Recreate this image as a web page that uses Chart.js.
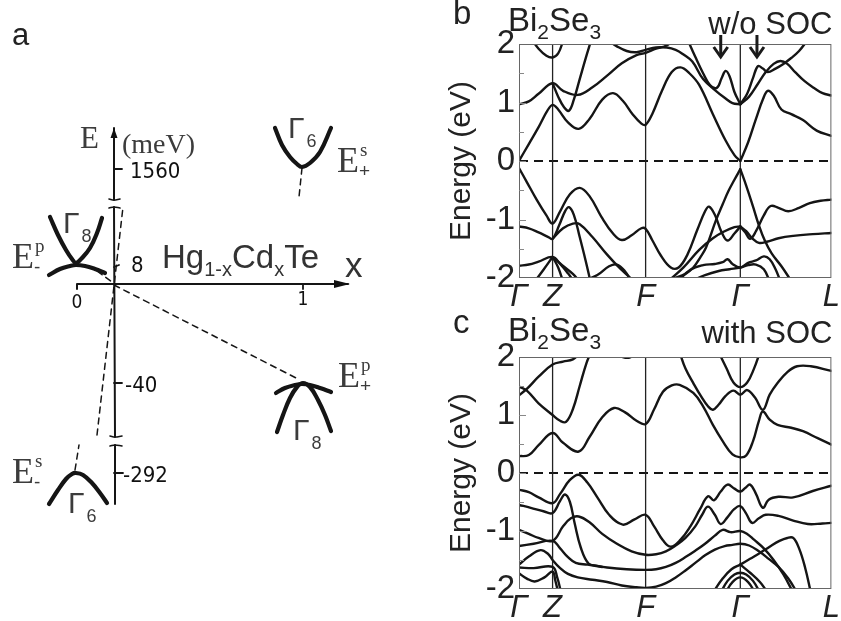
<!DOCTYPE html>
<html>
<head>
<meta charset="utf-8">
<script src="https://cdn.jsdelivr.net/npm/chart.js@4.4.1/dist/chart.umd.min.js"></script>
<style>
  html, body { margin: 0; padding: 0; background: #fff; }
  #fig { position: relative; width: 841px; height: 621px; overflow: hidden; background: #fff; }
  #fig canvas { position: absolute; }
</style>
</head>
<body>
<div id="fig">
  <canvas id="panelA" width="430" height="621" style="left:0;top:0"></canvas>
  <canvas id="panelB" width="401" height="310" style="left:440px;top:0"></canvas>
  <canvas id="panelC" width="401" height="311" style="left:440px;top:310px"></canvas>
</div>
<script>
const SANS = '"Liberation Sans", Arial, Helvetica, sans-serif';
const SERIF = '"Liberation Serif", "Times New Roman", serif';
const HAND = '"Liberation Sans Narrow", "DejaVu Sans Condensed", sans-serif';

/* ---------- panel a: Hg1-xCdxTe level scheme (u: right of E axis, v: above x axis) ---------- */
const eAxisSegments = [[[0,156],[0,84]], [[0,77],[1,-153]], [[1,-161],[1,-220]]];
const eAxisBreaks = [[[-5,85],[0,84],[6,85]], [[-5,76],[0,77],[6,76]],
                     [[-4,-152],[1,-153],[8,-152]], [[-4,-162],[1,-161],[8,-162]]];
const eAxisTicks = [[[0,115],[8,115]], [[0,17],[5,19]], [[0,-99],[8,-99]], [[0,-189],[9,-189]]];
const xAxisLine = [[-37,-5],[-37,0],[234,0]];
const xAxisTicks = [[[189,0],[189,-5]]];
const gamma6Upper = [[161,156],[168,139],[176,127],[183,120],[188,117],[196,121],[206,132],[217,156]];
const gamma8LeftUp = [[-64,67],[-56,49],[-48,34],[-42,25],[-38,21],[-32,26],[-24,36],[-17,51],[-12,66]];
const gamma8LeftArch = [[-65,9],[-54,15],[-44,18],[-38,19],[-29,18],[-19,15],[-9,11]];
const gamma6Lower = [[-65,-220],[-56,-206],[-48,-195],[-42,-190],[-38,-189],[-31,-191],[-22,-199],[-14,-209],[-7,-219]];
const gamma8RightSteep = [[163,-148],[169,-131],[176,-114],[183,-103],[189,-99],[196,-103],[204,-116],[211,-131],[217,-147]];
const gamma8RightFlat = [[162,-109],[171,-104],[181,-101],[188,-100],[196,-101],[206,-104],[217,-108]];
const levelTrends = [[[188,116],[185,87]], [[-39,-186],[-35,-161]], [[-17,-151],[9,77]],
                     [[0,-1],[186,-96]], [[-17,13],[-2,2]]];
const energyMarks = [['1560',16,106], ['8',17,12], ['-40',11,-108], ['-292',9,-198]];
const compositionMarks = [['0',-37,-24], ['1',189,-21]];

/* ---------- panels b, c: Bi2Se3 bands along Γ–Z–F–Γ–L ---------- */
const kPoints = [0, 0.343, 1.293, 2.26, 3.19];
const kLabels = ['Γ', 'Z', 'F', 'Γ', 'L'];
const energyTicks = [-2, -1, 0, 1, 2];
const arrowK = [2.06, 2.43];

// without spin-orbit coupling
const woC1 = [[0,0],[0.1,0.29],[0.2,0.58],[0.29,0.86],[0.343,0.96],[0.4,0.88],[0.5,0.66],[0.61,0.55],[0.72,0.72],[0.85,1.05],[0.96,1.16],[1.06,1.03],[1.16,0.8],[1.25,0.64],[1.293,0.62],[1.36,0.8],[1.46,1.2],[1.56,1.52],[1.65,1.6],[1.74,1.5],[1.84,1.3],[1.98,0.8],[2.11,0.35],[2.2,0.1],[2.26,0]];
const woC1R = [[2.26,0],[2.34,0.32],[2.42,0.72],[2.49,1.05],[2.54,1.2],[2.6,1.12],[2.68,0.88],[2.78,0.8],[2.9,0.7],[3.04,0.52],[3.19,0.43]];
const woC2 = [[0,0.97],[0.1,1.02],[0.2,1.15],[0.343,1.33],[0.45,1.2],[0.6,1.13],[0.75,1.26],[0.9,1.46],[1.05,1.67],[1.2,1.81],[1.293,1.85],[1.4,1.92],[1.5,1.97],[1.58,2.06]];
const woC3 = [[0.343,1.33],[0.4,1.1],[0.46,0.92],[0.51,0.86],[0.56,1.05],[0.62,1.4],[0.68,1.75],[0.74,2.08]];
const woC4 = [[0.12,2.1],[0.2,1.92],[0.28,1.8],[0.343,1.77],[0.4,1.84],[0.45,2.05]];
const woC5 = [[0.92,2.05],[1.0,1.96],[1.1,1.88],[1.2,1.86],[1.293,1.9],[1.4,1.94],[1.51,1.94],[1.6,1.9],[1.68,1.82],[1.77,1.7],[1.88,1.4],[2.01,1.2],[2.1,1.08],[2.18,0.99],[2.26,0.97]];
const woC6 = [[1.72,2.08],[1.8,1.78],[1.88,1.5],[1.95,1.3],[2.02,1.25],[2.07,1.42],[2.11,1.54],[2.15,1.45],[2.2,1.18],[2.26,0.97]];
const woC7 = [[2.26,0.97],[2.33,1.15],[2.39,1.42],[2.44,1.62],[2.49,1.58],[2.54,1.52],[2.62,1.58],[2.7,1.66],[2.78,1.76],[2.86,1.88],[2.94,2.05]];
const woC8 = [[2.26,0.97],[2.35,1.1],[2.44,1.32],[2.52,1.52],[2.6,1.66],[2.67,1.71],[2.74,1.66],[2.82,1.52],[2.92,1.36],[3.02,1.24],[3.1,1.16],[3.19,1.12]];
const woV1 = [[0,-0.12],[0.08,-0.36],[0.18,-0.66],[0.28,-0.93],[0.343,-1.07],[0.42,-0.86],[0.52,-0.57],[0.62,-0.46],[0.72,-0.6],[0.84,-0.95],[0.96,-1.24],[1.05,-1.35],[1.15,-1.27],[1.25,-1.15],[1.293,-1.16],[1.36,-1.35],[1.45,-1.62],[1.55,-1.82],[1.63,-1.82],[1.72,-1.6],[1.82,-1.18],[1.9,-0.86],[1.94,-0.78],[2.0,-0.92],[2.07,-1.22],[2.13,-1.36],[2.2,-1.24],[2.26,-1.12]];
const woV2 = [[1.45,-2.06],[1.61,-1.99],[1.7,-1.93],[1.78,-1.82],[1.85,-1.65],[1.91,-1.48],[2.01,-1.02],[2.08,-0.74],[2.14,-0.51],[2.2,-0.32],[2.26,-0.14]];
const woV2R = [[2.26,-0.14],[2.32,-0.42],[2.39,-0.78],[2.45,-1.1],[2.51,-1.36],[2.58,-1.58],[2.68,-1.8],[2.78,-2.05]];
const woV3 = [[2.26,-1.12],[2.31,-1.22],[2.36,-1.33],[2.42,-1.2],[2.5,-0.93],[2.57,-0.77],[2.65,-0.8],[2.75,-0.86],[2.86,-0.8],[2.97,-0.72],[3.08,-0.68],[3.19,-0.66]];
const woV4 = [[2.26,-1.12],[2.32,-1.2],[2.38,-1.32],[2.45,-1.4],[2.53,-1.38],[2.65,-1.32],[2.8,-1.28],[3.0,-1.25],[3.19,-1.23]];
const woV5 = [[1.52,-2.06],[1.68,-1.82],[1.84,-1.52],[1.98,-1.32],[2.1,-1.2],[2.2,-1.13],[2.26,-1.12]];
const woV6 = [[1.62,-2.06],[1.75,-1.86],[1.88,-1.78],[2.0,-1.76],[2.08,-1.73],[2.13,-1.68],[2.18,-1.76],[2.26,-1.82],[2.34,-1.74],[2.42,-1.7],[2.5,-1.63],[2.56,-1.68],[2.62,-1.85],[2.67,-2.06]];
const woV7 = [[1.75,-2.06],[1.9,-1.95],[2.04,-1.88],[2.15,-1.85],[2.26,-1.82],[2.34,-1.78],[2.42,-1.77],[2.5,-1.85],[2.56,-2.06]];
const woV8 = [[0,-1.12],[0.1,-1.15],[0.2,-1.22],[0.3,-1.3],[0.343,-1.33],[0.41,-1.1],[0.47,-0.86],[0.51,-0.79],[0.56,-0.92],[0.62,-1.3],[0.68,-1.7],[0.73,-2.06]];
const woV9 = [[0.343,-1.33],[0.45,-1.15],[0.55,-1.07],[0.62,-1.08],[0.75,-1.3],[0.9,-1.6],[1.04,-1.85],[1.18,-2.06]];
const woV10 = [[0,-1.79],[0.1,-1.77],[0.2,-1.72],[0.343,-1.64],[0.42,-1.76],[0.5,-1.92],[0.56,-2.06]];
const woV11 = [[0.343,-1.64],[0.4,-1.82],[0.45,-2.06]];
const woV12 = [[0.16,-2.06],[0.25,-1.86],[0.343,-1.64]];
const woV13 = [[0.343,-1.64],[0.44,-1.78],[0.55,-1.93],[0.62,-2.06]];
const woV14 = [[0.7,-2.02],[0.8,-1.95],[0.92,-1.8],[1.0,-1.77],[1.08,-1.88],[1.15,-2.06]];
const bandsWithoutSOC = [woC1, woC1R, woC2, woC3, woC4, woC5, woC6, woC7, woC8,
  woV1, woV2, woV2R, woV3, woV4, woV5, woV6, woV7, woV8, woV9, woV10, woV11, woV12, woV13, woV14];

// with spin-orbit coupling
const wC1 = [[0,0.29],[0.1,0.31],[0.2,0.48],[0.343,0.69],[0.45,0.52],[0.61,0.37],[0.72,0.62],[0.85,0.96],[0.97,1.12],[1.08,1.05],[1.2,0.9],[1.293,0.845],[1.38,1.1],[1.47,1.4],[1.56,1.51],[1.64,1.52],[1.78,1.38],[1.88,1.15],[1.98,0.83],[2.08,0.55],[2.18,0.32],[2.26,0.27],[2.32,0.3],[2.39,0.55],[2.45,0.9],[2.49,1.06],[2.56,0.92],[2.64,0.83],[2.78,0.78],[2.9,0.72],[3.05,0.6],[3.19,0.49]];
const wC2 = [[0,1.49],[0.08,1.42],[0.2,1.2],[0.343,1.0],[0.42,0.9],[0.48,0.88],[0.55,1.1],[0.62,1.5],[0.69,1.9],[0.74,2.1]];
const wC3 = [[0,1.34],[0.08,1.45],[0.2,1.66],[0.343,1.87],[0.45,1.92],[0.55,1.96],[0.62,2.06]];
const wC4 = [[1.0,2.06],[1.06,2.0],[1.13,1.99],[1.19,2.06]];
const wC5 = [[1.64,2.08],[1.7,1.8],[1.78,1.55],[1.86,1.32],[1.93,1.15],[1.98,1.09],[2.04,1.18],[2.11,1.33],[2.19,1.42],[2.26,1.35],[2.33,1.43],[2.41,1.3],[2.49,1.09],[2.56,1.35],[2.64,1.55],[2.74,1.74],[2.84,1.84],[2.98,1.84],[3.19,1.76]];
const wC6 = [[2.04,2.08],[2.12,1.8],[2.19,1.56],[2.26,1.48],[2.33,1.56],[2.4,1.8],[2.46,2.08]];
const wV1 = [[0,-0.29],[0.1,-0.33],[0.2,-0.42],[0.343,-0.52],[0.42,-0.36],[0.52,-0.12],[0.61,-0.03],[0.7,-0.17],[0.8,-0.42],[0.92,-0.72],[1.06,-0.89],[1.18,-0.8],[1.293,-0.72],[1.38,-0.92],[1.47,-1.16],[1.55,-1.27],[1.65,-1.15],[1.75,-0.92],[1.85,-0.62],[1.93,-0.4],[1.99,-0.47],[2.06,-0.32],[2.13,-0.2],[2.2,-0.27],[2.26,-0.32],[2.31,-0.26],[2.36,-0.2],[2.42,-0.36],[2.49,-0.6],[2.55,-0.46],[2.65,-0.41],[2.8,-0.42],[3.0,-0.31],[3.19,-0.22]];
const wV2 = [[0,-0.55],[0.12,-0.6],[0.25,-0.66],[0.343,-0.69],[0.42,-0.48],[0.47,-0.37],[0.52,-0.5],[0.57,-0.88],[0.63,-1.28],[0.71,-1.56],[0.8,-1.6],[0.9,-1.63],[1.1,-1.66],[1.293,-1.67],[1.4,-1.66],[1.5,-1.62],[1.6,-1.55],[1.7,-1.45],[1.8,-1.34],[1.9,-1.22],[2.0,-1.08],[2.08,-0.98],[2.16,-1.02],[2.26,-1.0],[2.33,-1.05],[2.4,-1.15],[2.5,-1.3],[2.6,-1.5],[2.7,-1.75],[2.8,-2.06]];
const wV3 = [[0,-0.98],[0.1,-1.05],[0.2,-1.12],[0.343,-1.17],[0.45,-0.92],[0.53,-0.78],[0.61,-0.75],[0.72,-0.85],[0.85,-1.05],[1.0,-1.22],[1.15,-1.35],[1.293,-1.41],[1.4,-1.4],[1.5,-1.35],[1.6,-1.25],[1.7,-1.12],[1.8,-0.92],[1.87,-0.72],[1.93,-0.58],[2.0,-0.72],[2.06,-0.88],[2.13,-0.76],[2.2,-0.62],[2.26,-0.57],[2.32,-0.7],[2.38,-0.86],[2.45,-0.78],[2.52,-0.72],[2.65,-0.74],[2.8,-0.82],[2.95,-0.88],[3.1,-0.87],[3.19,-0.86]];
const wV4 = [[0,-1.26],[0.15,-1.22],[0.343,-1.17],[0.42,-1.3],[0.5,-1.45],[0.58,-1.55],[0.7,-1.58],[0.85,-1.62]];
const wV5 = [[0,-1.58],[0.1,-1.44],[0.22,-1.33],[0.3,-1.4],[0.343,-1.5],[0.42,-1.64],[0.5,-1.74],[0.6,-1.8],[0.75,-1.84],[0.9,-1.88],[1.05,-1.94],[1.2,-1.97],[1.293,-1.98],[1.4,-1.96],[1.5,-1.9],[1.6,-1.8],[1.7,-1.68],[1.8,-1.55],[1.9,-1.42],[2.0,-1.32],[2.1,-1.26],[2.18,-1.24],[2.26,-1.22],[2.35,-1.25],[2.45,-1.35],[2.55,-1.48],[2.65,-1.62],[2.75,-1.82],[2.84,-2.06]];
const wV6 = [[0,-1.63],[0.15,-1.64],[0.343,-1.62],[0.39,-1.8],[0.43,-2.06]];
const wV7 = [[0,-1.73],[0.08,-1.82],[0.16,-1.87],[0.26,-1.8],[0.343,-1.7],[0.37,-1.85],[0.4,-2.06]];
const wV8 = [[2.26,-1.58],[2.36,-1.48],[2.46,-1.38],[2.56,-1.27],[2.66,-1.17],[2.74,-1.12],[2.8,-1.12],[2.86,-1.3],[2.92,-1.62],[2.98,-2.06]];
const wV9 = [[2.06,-2.06],[2.13,-1.86],[2.2,-1.75],[2.26,-1.72],[2.32,-1.75],[2.39,-1.86],[2.46,-2.06]];
const wV10 = [[2.11,-2.06],[2.18,-1.88],[2.26,-1.8],[2.34,-1.88],[2.41,-2.06]];
const wV11 = [[1.98,-2.06],[2.08,-1.82],[2.17,-1.66],[2.26,-1.58]];
const wV12 = [[2.26,-1.58],[2.36,-1.72],[2.46,-1.88],[2.54,-2.06]];
const bandsWithSOC = [wC1, wC2, wC3, wC4, wC5, wC6,
  wV1, wV2, wV3, wV4, wV5, wV6, wV7, wV8, wV9, wV10, wV11, wV12];

/* ---------- helpers ---------- */
const pts = arr => arr.map(p => ({ x: p[0], y: p[1] }));

function lineSet(arr, width, dash) {
  return { data: pts(arr), showLine: true, borderColor: '#151515', borderWidth: width,
           borderDash: dash || [], pointRadius: 0, tension: 0.4, fill: false,
           borderCapStyle: 'round', borderJoinStyle: 'round' };
}

// text runs drawn left to right: [text, size, dy, family]
function drawRuns(ctx, x, y, runs) {
  let cx = x;
  runs.forEach(([t, size, dy, fam]) => {
    ctx.font = size + 'px ' + (fam || SANS);
    ctx.fillText(t, cx, y + dy);
    cx += ctx.measureText(t).width;
  });
}

// serif E with stacked superscript and subscript
function drawLevel(ctx, x, y, sup, sub) {
  ctx.fillStyle = '#3c3c3c';
  ctx.font = '36px ' + SERIF;
  ctx.fillText('E', x, y);
  const w = ctx.measureText('E').width;
  ctx.font = '19px ' + SERIF;
  ctx.fillText(sup, x + w + 1, y - 16);
  ctx.font = '19px ' + SANS;
  ctx.fillText(sub, x + w, y + 5);
}

function drawGamma(ctx, x, y, sub) {
  ctx.fillStyle = '#3c3c3c';
  ctx.font = '30px ' + SANS;
  ctx.fillText('Γ', x, y);
  const w = ctx.measureText('Γ').width;
  ctx.font = '18px ' + SANS;
  ctx.fillText(sub, x + w + 2, y + 9);
}

/* ---------- panel a ---------- */
const diagramDecor = {
  id: 'diagramDecor',
  afterDatasetsDraw(chart) {
    const ctx = chart.ctx;
    const X = u => chart.scales.x.getPixelForValue(u);
    const Y = v => chart.scales.y.getPixelForValue(v);
    ctx.save();
    ctx.fillStyle = '#111';
    // arrow heads of both axes
    ctx.beginPath();
    ctx.moveTo(X(0), Y(156)); ctx.lineTo(X(-3.5), Y(146)); ctx.lineTo(X(3.5), Y(146)); ctx.closePath(); ctx.fill();
    ctx.beginPath();
    ctx.moveTo(X(236), Y(0)); ctx.lineTo(X(220), Y(4)); ctx.lineTo(X(220), Y(-4)); ctx.closePath(); ctx.fill();
    ctx.textBaseline = 'alphabetic';
    // energy marks on the broken E axis
    ctx.textAlign = 'left';
    energyMarks.forEach(([t, u, v]) => { ctx.font = '22px ' + HAND; ctx.fillText(t, X(u), Y(v)); });
    ctx.textAlign = 'center';
    compositionMarks.forEach(([t, u, v]) => { ctx.font = '19px ' + HAND; ctx.fillText(t, X(u), Y(v)); });
    ctx.textAlign = 'left';
    // axis captions
    ctx.fillStyle = '#3c3c3c';
    ctx.font = '31px ' + SERIF; ctx.fillText('E', X(-34), Y(136));
    ctx.font = '28px ' + SERIF; ctx.fillText('(meV)', X(8), Y(131));
    ctx.fillStyle = '#333';
    drawRuns(ctx, X(48), Y(16), [['Hg',33,0],['1-x',20,8],['Cd',33,0],['x',20,8],['Te',33,0]]);
    ctx.font = '35px ' + SANS; ctx.fillText('x', X(231), Y(7));
    // band-edge labels
    drawGamma(ctx, X(174), Y(146), '6');
    drawLevel(ctx, X(223), Y(112), 's', '+');
    drawGamma(ctx, X(-51), Y(51), '8');
    drawLevel(ctx, X(-102), Y(16), 'p', '-');
    drawGamma(ctx, X(-46), Y(-229), '6');
    drawLevel(ctx, X(-102), Y(-199), 's', '-');
    drawGamma(ctx, X(179), Y(-156), '8');
    drawLevel(ctx, X(224), Y(-103), 'p', '+');
    // panel letter
    ctx.fillStyle = '#222';
    ctx.font = '31px ' + SANS; ctx.fillText('a', X(-102), Y(239));
    ctx.restore();
  }
};

const diagramSets = [];
eAxisSegments.forEach(s => diagramSets.push(lineSet(s, 2)));
eAxisBreaks.forEach(s => diagramSets.push(lineSet(s, 1.6)));
eAxisTicks.forEach(s => diagramSets.push(lineSet(s, 1.8)));
diagramSets.push(Object.assign(lineSet(xAxisLine, 2), { tension: 0 }));
xAxisTicks.forEach(s => diagramSets.push(lineSet(s, 1.8)));
[gamma6Upper, gamma8LeftUp, gamma8LeftArch, gamma6Lower, gamma8RightSteep, gamma8RightFlat]
  .forEach(s => diagramSets.push(lineSet(s, 4.2)));
levelTrends.forEach(s => diagramSets.push(lineSet(s, 1.5, [6, 5])));

new Chart(document.getElementById('panelA'), {
  type: 'scatter',
  data: { datasets: diagramSets },
  options: {
    responsive: false, animation: false, events: [],
    layout: { padding: 0 },
    plugins: { legend: { display: false }, tooltip: { enabled: false } },
    scales: {
      x: { type: 'linear', display: false, min: -114, max: 316 },
      y: { type: 'linear', display: false, min: -337, max: 284 }
    }
  },
  plugins: [diagramDecor]
});

/* ---------- panels b, c ---------- */
function bandDatasets(bands) {
  const sets = bands.map(b => lineSet(b, 2.4));
  kPoints.slice(1, 4).forEach(k => sets.push(Object.assign(lineSet([[k,-2],[k,2]], 1.3), { borderColor: '#222', tension: 0 })));
  sets.push(Object.assign(lineSet([[0,0],[3.19,0]], 2, [9, 6]), { tension: 0, borderCapStyle: 'butt' }));
  return sets;
}

function bandFrame(letter, title, withArrows, offs) {
  return {
    id: 'bandFrame',
    afterDatasetsDraw(chart) {
      const ctx = chart.ctx, a = chart.chartArea, ys = chart.scales.y;
      ctx.save();
      ctx.strokeStyle = '#666'; ctx.lineWidth = 1;
      ctx.strokeRect(a.left + 0.5, a.top + 0.5, a.right - a.left - 1, a.bottom - a.top - 1);
      // inward ticks on the energy axis
      ctx.strokeStyle = '#888';
      for (let e = -1.5; e <= 1.5; e += 0.5) {
        const y = Math.round(ys.getPixelForValue(e)) + 0.5;
        const len = Number.isInteger(e) ? 7 : 5;
        ctx.beginPath(); ctx.moveTo(a.left, y); ctx.lineTo(a.left + len, y); ctx.stroke();
      }
      ctx.restore();
    },
    afterDraw(chart) {
      const ctx = chart.ctx, a = chart.chartArea, xs = chart.scales.x;
      ctx.save();
      ctx.fillStyle = '#222';
      ctx.textBaseline = 'alphabetic';
      ctx.textAlign = 'left';
      ctx.font = '33px ' + SANS;
      ctx.fillText(letter, a.left - 66, a.top + offs.letter);
      drawRuns(ctx, a.left - 11, a.top + offs.formula, [['Bi',33,0],['2',21,8],['Se',33,0],['3',21,8]]);
      ctx.textAlign = 'right';
      ctx.font = '31px ' + SANS;
      ctx.fillText(title, a.right + 1, a.top + offs.title);
      if (withArrows) {
        ctx.strokeStyle = '#1a1a1a'; ctx.lineWidth = 3; ctx.lineCap = 'butt';
        arrowK.forEach(k => {
          const x = xs.getPixelForValue(k);
          ctx.beginPath(); ctx.moveTo(x, a.top - 9); ctx.lineTo(x, a.top + 12); ctx.stroke();
          ctx.beginPath(); ctx.moveTo(x - 7, a.top + 3); ctx.lineTo(x, a.top + 13); ctx.lineTo(x + 7, a.top + 3); ctx.stroke();
        });
      }
      ctx.restore();
    }
  };
}

function bandChart(id, bands, topPad, letter, title, withArrows, offs) {
  return new Chart(document.getElementById(id), {
    type: 'scatter',
    data: { datasets: bandDatasets(bands) },
    options: {
      responsive: false, animation: false, events: [],
      layout: { padding: { top: topPad, right: 3, left: 0, bottom: 0 } },
      plugins: { legend: { display: false }, tooltip: { enabled: false } },
      scales: {
        x: {
          type: 'linear', min: 0, max: 3.19,
          grid: { display: false, drawTicks: false, tickLength: 0 }, border: { display: false },
          afterBuildTicks: s => { s.ticks = kPoints.map(v => ({ value: v })); },
          afterFit: s => { s.height = 32; },
          ticks: {
            autoSkip: false, maxRotation: 0, minRotation: 0, padding: 1,
            color: '#222', font: { family: SANS, size: 31, style: 'italic' },
            callback: (v, i) => kLabels[i]
          }
        },
        y: {
          type: 'linear', min: -2, max: 2,
          grid: { display: false, drawTicks: false, tickLength: 0 }, border: { display: false },
          afterBuildTicks: s => { s.ticks = energyTicks.map(v => ({ value: v })); },
          afterFit: s => { s.width = 79; },
          ticks: { padding: 4, color: '#222', font: { family: SANS, size: 33 } },
          title: { display: true, text: 'Energy (eV)', color: '#222',
                   font: { family: SANS, size: 30 }, padding: { top: 4, bottom: 0 } }
        }
      }
    },
    plugins: [bandFrame(letter, title, withArrows, offs)]
  });
}

bandChart('panelB', bandsWithoutSOC, 44, 'b', 'w/o SOC', true, { letter: -20, formula: -13, title: -10 });
bandChart('panelC', bandsWithSOC, 47, 'c', 'with SOC', false, { letter: -24, formula: -16, title: -14 });
</script>
</body>
</html>
